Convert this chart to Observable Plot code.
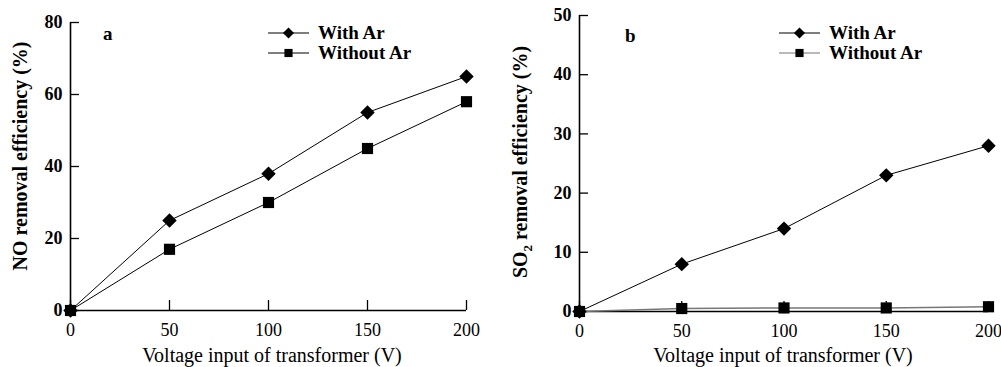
<!DOCTYPE html>
<html>
<head>
<meta charset="utf-8">
<script src="https://cdn.jsdelivr.net/npm/d3@7"></script>
<script src="https://cdn.jsdelivr.net/npm/@observablehq/plot@0.6"></script>
<style>
  html, body { margin: 0; padding: 0; background: #fff; }
  #wrap { display: flex; flex-direction: row; width: 1001px; height: 367px; overflow: hidden; }
  svg { overflow: visible; }
</style>
</head>
<body>
<div id="wrap"></div>
<script>
// ---- data ----
const voltage = [0, 50, 100, 150, 200];
const noWithAr = [0, 25, 38, 55, 65];
const noWithoutAr = [0, 17, 30, 45, 58];
const so2WithAr = [0, 8, 14, 23, 28];
const so2WithoutAr = [0, 0.5, 0.6, 0.6, 0.8];
const seriesNames = ["With Ar", "Without Ar"];
const xTicks = [0, 50, 100, 150, 200];
const yTicksA = [0, 20, 40, 60, 80];
const yTicksB = [0, 10, 20, 30, 40, 50];

function rows(a, b) {
  return voltage.flatMap((v, i) => [
    {v, value: a[i], series: seriesNames[0]},
    {v, value: b[i], series: seriesNames[1]}
  ]);
}

const FONT = "'Liberation Serif', 'Times New Roman', serif";

function panel({data, yDomain, yTicks, width, ml, mr, mt, mb, withoutColor, withoutWidth, letter, letterPos, yTitle, yTitleX, yTitleY, xTitleX, legendX, subscript}) {
  const plotH = 367 - mt - mb;
  const plotW = width - ml - mr;
  const chart = Plot.plot({
    width, height: 367,
    marginLeft: ml, marginRight: mr, marginTop: mt, marginBottom: mb,
    style: {fontFamily: FONT, fontSize: "18px", color: "#000", background: "transparent"},
    x: {domain: [0, 200]},
    y: {domain: yDomain},
    marks: [
      Plot.axisX({ticks: xTicks, tickSize: 0, tickPadding: 13, label: null, fontSize: 18}),
      Plot.axisY({ticks: yTicks, tickSize: 0, tickPadding: 8, label: null, fontSize: 18, fontWeight: "bold"}),
      Plot.tickX(xTicks, {x: d => d, insetTop: plotH - 10, stroke: "#000", strokeWidth: 1.3}),
      Plot.tickY(yTicks, {y: d => d, insetRight: plotW - 9, stroke: "#000", strokeWidth: 1.3}),
      Plot.ruleY([0], {stroke: "#000", strokeWidth: 1.6}),
      Plot.ruleX([0], {stroke: "#000", strokeWidth: 1.6}),
      Plot.line(data.filter(d => d.series === seriesNames[1]), {x: "v", y: "value", stroke: withoutColor, strokeWidth: withoutWidth}),
      Plot.line(data.filter(d => d.series === seriesNames[0]), {x: "v", y: "value", stroke: "#000", strokeWidth: 1}),
      Plot.dot(data.filter(d => d.series === seriesNames[1]), {x: "v", y: "value", symbol: "square", r: 6.3, fill: "#000", stroke: "none"}),
      Plot.dot(data.filter(d => d.series === seriesNames[0]), {x: "v", y: "value", symbol: "diamond2", r: 6.5, fill: "#000", stroke: "none"})
    ]
  });
  const svg = d3.select(chart);
  // panel letter
  svg.append("text").attr("x", letterPos[0]).attr("y", letterPos[1]).attr("text-anchor", "start")
    .attr("font-family", FONT).attr("font-size", 19).attr("font-weight", "bold").text(letter);
  // y title
  const yt = svg.append("text")
    .attr("transform", `translate(${yTitleX},${yTitleY}) rotate(-90)`)
    .attr("text-anchor", "middle").attr("font-family", FONT).attr("font-size", 20).attr("font-weight", "bold");
  if (subscript) {
    yt.append("tspan").text("SO");
    yt.append("tspan").attr("font-size", 13).attr("dy", 5).text("2");
    yt.append("tspan").attr("dy", -5).text(" removal efficiency (%)");
  } else {
    yt.text(yTitle);
  }
  // x title
  svg.append("text").attr("x", xTitleX).attr("y", 362).attr("text-anchor", "middle")
    .attr("font-family", FONT).attr("font-size", 20).text("Voltage input of transformer (V)");
  // legend
  const entries = [
    {name: seriesNames[0], sym: d3.symbolDiamond2, size: Math.PI * 5 * 5, color: "#000", y: 33},
    {name: seriesNames[1], sym: d3.symbolSquare, size: Math.PI * 4.6 * 4.6, color: withoutColor, y: 53}
  ];
  for (const e of entries) {
    svg.append("line").attr("x1", legendX).attr("x2", legendX + 41).attr("y1", e.y).attr("y2", e.y)
      .attr("stroke", e.color).attr("stroke-width", 1.2);
    svg.append("path").attr("d", d3.symbol(e.sym, e.size)()).attr("transform", `translate(${legendX + 20.5},${e.y})`).attr("fill", "#000");
    svg.append("text").attr("x", legendX + 50).attr("y", e.y + 6).attr("text-anchor", "start")
      .attr("font-family", FONT).attr("font-size", 19).attr("font-weight", "bold").text(e.name);
  }
  return chart;
}

const wrap = document.getElementById("wrap");
wrap.append(panel({
  data: rows(noWithAr, noWithoutAr), yDomain: [0, 80], yTicks: yTicksA,
  width: 500, ml: 70, mr: 34, mt: 22, mb: 57,
  withoutColor: "#000", withoutWidth: 1,
  letter: "a", letterPos: [103, 40],
  yTitle: "NO removal efficiency (%)", yTitleX: 27, yTitleY: 156, xTitleX: 272, legendX: 268
}));
wrap.append(panel({
  data: rows(so2WithAr, so2WithoutAr), yDomain: [0, 50], yTicks: yTicksB,
  width: 501, ml: 79, mr: 13, mt: 15, mb: 56,
  withoutColor: "#777", withoutWidth: 1.5,
  letter: "b", letterPos: [125, 42],
  yTitle: "", yTitleX: 27, yTitleY: 162, xTitleX: 283, legendX: 279, subscript: true
}));
</script>
</body>
</html>
